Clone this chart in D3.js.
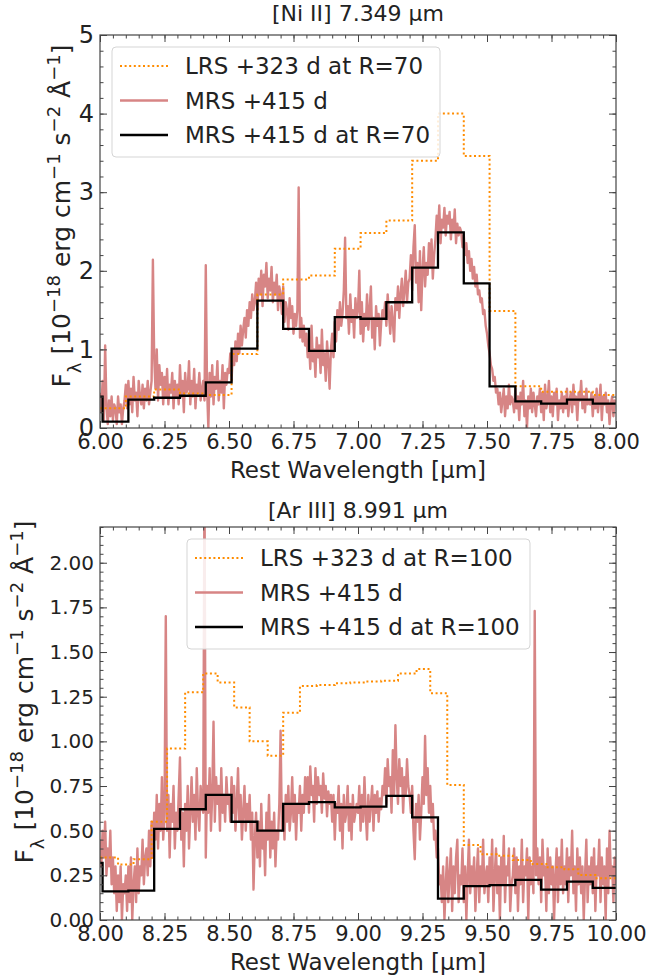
<!DOCTYPE html>
<html>
<head>
<meta charset="utf-8">
<script src="https://cdn.jsdelivr.net/npm/d3@7/dist/d3.min.js"></script>
<style>
body { margin: 0; background: #fff; }
text { font-family: "DejaVu Sans", sans-serif; fill: #222; }
</style>
</head>
<body>
<svg id="chart"></svg>
<script>
// ---- panel 1 : [Ni II] 7.349 um ----
var mrsStep = 0.005;
var mrsStart1 = 6.0;
var mrsFlux1 = [
0.45,0.2,0.6,0.1,1.05,0.3,0.05,0.35,0.15,0.4,0.1,0.3,0.25,0.05,0.4,0.2,0.3,0.05,0.25,0.35,
0.55,0.25,0.6,0.3,0.5,0.2,0.65,0.35,0.45,0.15,0.6,0.4,0.3,0.55,0.25,0.5,0.35,0.6,0.3,0.45,
0.6,2.14,0.9,0.5,1.0,0.35,0.8,0.55,0.7,0.3,0.65,0.4,0.75,0.3,0.55,0.45,0.7,0.25,0.6,0.4,
0.55,0.3,0.8,0.4,0.6,0.2,0.7,0.45,0.5,0.85,0.3,0.6,0.4,0.75,0.25,0.55,0.45,0.7,0.35,0.5,
0.6,0.35,2.07,0.5,0.0,0.7,0.4,0.8,0.3,0.65,0.5,0.85,0.35,0.6,0.45,0.8,0.25,0.7,0.55,0.75,
0.7,0.95,0.6,1.0,0.8,1.1,0.85,1.2,0.95,1.3,1.05,1.25,1.4,1.15,1.5,1.3,1.6,1.4,1.7,1.5,
1.6,1.85,1.5,1.9,1.7,2.0,1.55,1.95,1.8,2.1,1.65,1.9,1.75,2.05,1.6,1.85,1.7,1.95,1.5,1.8,
1.7,1.45,1.8,1.35,1.6,1.5,1.25,1.65,1.4,1.55,1.2,1.45,1.3,1.5,3.06,1.15,1.4,1.1,1.3,1.05,
1.2,0.9,1.1,0.75,1.3,0.85,1.0,0.65,1.15,0.9,1.05,0.7,1.25,0.8,0.95,0.6,1.1,0.85,0.5,1.0,
1.2,0.9,1.35,1.1,1.5,1.25,1.6,1.3,1.45,1.75,2.42,1.4,1.55,1.2,1.7,1.35,1.5,1.15,1.65,1.4,
1.5,2.0,1.2,1.6,1.1,1.45,1.3,1.7,1.25,1.5,1.8,1.15,1.4,1.0,1.55,1.3,1.45,1.05,1.35,1.5,
1.4,1.6,1.3,1.7,1.45,1.2,1.55,1.35,1.1,1.65,1.5,1.8,1.4,1.7,1.9,1.55,1.75,2.0,1.6,1.85,
1.9,2.2,1.75,2.3,2.58,1.85,2.1,1.6,2.25,1.5,2.0,2.3,1.8,2.1,1.95,2.35,2.05,2.4,1.9,2.2,
2.4,2.7,2.5,2.83,2.35,2.65,2.55,2.8,2.45,2.7,2.6,2.75,2.4,2.65,2.5,2.78,2.35,2.6,2.45,2.55,
2.5,2.3,2.45,2.2,2.35,2.1,2.25,2.0,2.15,1.9,2.05,1.8,1.95,1.7,1.75,1.6,1.65,1.45,1.5,1.3,
1.2,1.05,0.95,0.8,0.75,0.6,0.65,0.45,0.5,0.3,0.45,0.2,0.35,0.5,0.15,0.4,0.25,0.55,0.3,0.4,
0.35,0.2,0.5,0.25,0.4,0.1,0.45,0.3,0.6,0.15,0.35,0.0,0.4,0.25,0.5,0.2,0.45,0.3,0.15,0.4,
0.3,0.5,0.2,0.45,0.1,0.55,0.25,0.35,0.6,0.2,0.4,0.15,0.45,0.3,0.5,0.1,0.35,0.25,0.45,0.2,
0.4,0.25,0.5,0.15,0.35,0.45,0.2,0.55,0.3,0.4,0.1,0.45,0.35,0.6,0.25,0.4,0.2,0.5,0.3,0.35,
0.3,0.45,0.15,0.4,0.25,0.5,0.2,0.35,0.55,0.1,0.4,0.3,0.45,0.2,0.35,0.05,0.3,0.4,0.15,0.35,
0.3];
var binEdges1 = [6.00,6.01,6.11,6.21,6.31,6.41,6.51,6.61,6.71,6.81,6.91,7.01,7.11,7.21,7.31,7.41,7.51,7.61,7.71,7.81,7.91,8.00];
var binFlux1  = [0.40,0.08,0.36,0.385,0.41,0.58,1.01,1.62,1.26,0.98,1.41,1.39,1.60,2.04,2.49,1.84,0.53,0.34,0.31,0.36,0.31];
var lrsEdges1 = [6.00,6.10,6.21,6.31,6.41,6.51,6.61,6.71,6.81,6.91,7.01,7.11,7.21,7.31,7.41,7.51,7.61,7.71,7.91,8.00];
var lrsFlux1  = [0.25,0.40,0.49,0.44,0.42,0.94,1.70,1.89,1.94,2.28,2.48,2.64,3.40,4.00,3.46,1.49,0.53,0.46,0.42];
var xTicks1 = [6.00,6.25,6.50,6.75,7.00,7.25,7.50,7.75,8.00];
var yTicks1 = [0,1,2,3,4,5];

// ---- panel 2 : [Ar III] 8.991 um ----
var mrsStart2 = 8.0;
var mrsFlux2 = [
0.45,0.3,0.5,0.35,0.55,0.25,0.4,0.3,0.5,0.2,0.35,0.15,0.3,0.05,0.25,0.1,0.3,0.0,0.2,0.15,
0.25,0.05,0.3,0.1,0.35,0.0,0.2,0.3,0.1,0.4,0.15,0.3,0.25,0.45,0.2,0.35,0.4,0.25,0.5,0.3,
0.55,0.35,0.6,0.45,0.7,0.4,0.65,0.5,0.8,0.45,0.6,1.70,0.5,0.7,0.35,0.65,0.55,0.75,0.4,0.6,
0.5,0.7,0.91,0.45,0.6,0.3,0.65,0.5,0.75,0.4,0.6,0.8,0.55,0.7,0.45,0.85,0.6,0.5,0.75,0.65,
0.6,2.5,0.35,0.75,0.6,0.85,0.5,0.7,1.11,0.55,0.8,0.65,0.75,0.5,0.85,0.6,0.7,0.55,0.8,0.65,
0.7,0.55,0.8,0.6,0.75,0.5,0.65,0.85,0.55,0.7,0.45,0.6,0.75,0.5,0.65,0.55,0.7,0.45,0.6,0.17,
0.45,0.6,0.35,0.55,0.3,0.65,0.4,0.5,0.25,0.6,0.45,0.7,0.35,0.55,0.4,0.6,0.3,0.5,0.45,0.65,
1.06,0.5,0.65,0.45,0.7,0.55,0.75,0.5,0.6,0.8,0.55,0.7,0.45,0.65,0.6,0.75,0.5,0.7,0.6,0.8,
0.65,0.8,0.6,0.86,0.7,0.75,0.55,0.85,0.65,0.8,0.7,0.75,0.6,0.82,0.68,0.75,0.58,0.72,0.65,0.7,
0.55,0.7,0.45,0.65,0.6,0.75,0.5,0.65,0.4,0.7,0.55,0.6,0.75,0.5,0.65,0.45,0.7,0.55,0.6,0.65,
0.6,0.75,0.5,0.7,0.55,0.8,0.6,0.45,0.7,0.55,0.65,0.75,0.5,0.7,0.6,0.72,0.55,0.68,0.62,0.75,
0.7,0.85,0.65,0.9,0.75,0.8,0.6,0.95,0.7,1.09,0.8,0.65,0.9,0.75,0.85,0.6,0.8,0.7,0.9,0.75,
0.7,0.6,0.75,0.5,0.34,0.65,0.55,0.7,0.45,0.6,0.8,0.65,1.03,0.7,0.85,0.6,0.75,0.55,0.65,0.45,
0.5,0.35,0.4,0.2,0.25,0.1,0.3,0.0,0.2,0.35,0.1,0.25,0.4,0.05,0.3,0.15,0.35,0.45,0.1,0.25,
0.2,0.4,0.1,0.3,0.0,0.25,0.45,0.15,0.3,0.2,0.35,0.05,0.25,0.4,0.1,0.3,0.2,0.45,0.15,0.25,
0.3,0.1,0.35,0.2,0.45,0.05,0.25,0.4,0.15,0.3,0.0,0.35,0.2,0.47,0.1,0.3,0.25,0.4,0.05,0.2,
0.25,0.4,0.15,0.35,0.05,0.3,0.2,0.45,0.1,0.3,0.25,0.4,0.0,0.35,0.2,0.3,0.15,1.73,0.25,0.4,
0.2,0.35,0.1,0.45,0.25,0.3,0.05,0.4,0.15,0.35,0.2,0.3,0.0,0.25,0.4,0.1,0.35,0.2,0.45,0.15,
0.3,0.2,0.4,0.1,0.35,0.25,0.5,0.15,0.3,0.05,0.4,0.2,0.35,0.15,0.3,0.0,0.25,0.45,0.1,0.3,
0.2,0.35,0.15,0.4,0.05,0.3,0.25,0.45,0.1,0.35,0.2,0.3,0.0,0.4,0.15,0.5,0.25,0.3,0.1,0.35,
0.2];
var binEdges2 = [8.00,8.01,8.11,8.21,8.31,8.41,8.51,8.61,8.71,8.81,8.91,9.01,9.11,9.21,9.31,9.41,9.51,9.61,9.71,9.81,9.91,10.00];
var binFlux2  = [0.32,0.16,0.165,0.51,0.62,0.70,0.55,0.50,0.65,0.66,0.63,0.635,0.695,0.575,0.12,0.19,0.195,0.225,0.17,0.215,0.18];
var lrsEdges2 = [8.00,8.07,8.13,8.20,8.26,8.33,8.40,8.456,8.52,8.58,8.65,8.71,8.775,8.84,8.91,8.97,9.03,9.09,9.155,9.227,9.28,9.346,9.41,9.475,9.537,9.60,9.67,9.73,9.80,9.854,9.92,10.00];
var lrsFlux2  = [0.35,0.31,0.34,0.55,0.96,1.275,1.38,1.33,1.19,1.00,0.92,1.16,1.31,1.315,1.325,1.33,1.335,1.34,1.38,1.405,1.27,0.756,0.42,0.368,0.359,0.336,0.314,0.295,0.284,0.252,0.234];
var xTicks2 = [8.00,8.25,8.50,8.75,9.00,9.25,9.50,9.75,10.00];
var yTicks2 = [0.00,0.25,0.50,0.75,1.00,1.25,1.50,1.75,2.00];

var width = 649; var height = 979;
var svg = d3.select("#chart").attr("width", width).attr("height", height);

var pink = "#d78585", orange = "darkorange";

function stepPoints(edges, vals){
	var pts = [];
	for(var i = 0; i < vals.length; i++) pts.push([edges[i], vals[i]]);
	pts.push([edges[edges.length-1], vals[vals.length-1]]);
	return pts;
}

function drawPanel(p){
	var x = d3.scaleLinear().domain(p.xdom).range([p.left, p.right]);
	var y = d3.scaleLinear().domain(p.ydom).range([p.bottom, p.top]);
	var g = svg.append("g");

	var clipId = "clip" + p.id;
	svg.append("clipPath").attr("id", clipId).append("rect")
		.attr("x", p.left).attr("y", p.top)
		.attr("width", p.right - p.left).attr("height", p.bottom - p.top);
	var plot = g.append("g").attr("clip-path", "url(#" + clipId + ")");

	var mrs = p.mrs.map(function(v, i){ return [p.mrsStart + i*mrsStep, v]; });
	var line = d3.line().x(function(d){return x(d[0])}).y(function(d){return y(d[1])});
	var step = d3.line().curve(d3.curveStepAfter).x(function(d){return x(d[0])}).y(function(d){return y(d[1])});

	plot.append("path").datum(mrs).attr("d", line)
		.attr("fill", "none").attr("stroke", pink).attr("stroke-width", 2.4).attr("stroke-linejoin", "round");
	plot.append("path").datum(stepPoints(p.lrsEdges, p.lrsFlux)).attr("d", step)
		.attr("fill", "none").attr("stroke", orange).attr("stroke-width", 2).attr("stroke-dasharray", "2,2.6");
	plot.append("path").datum(stepPoints(p.binEdges, p.binFlux)).attr("d", step)
		.attr("fill", "none").attr("stroke", "#000").attr("stroke-width", 2.3);

	// axes, ticks inward on all sides
	var fmtX = d3.format(".2f");
	var xMinor = d3.range(p.xdom[0], p.xdom[1] + 1e-9, 0.05);
	var yMinor = d3.range(p.ydom[0], p.ydom[1] + 1e-9, p.yminor);
	function axisSet(axisFn, scale, ticks, minor, labels, fs, tr){
		var a = g.append("g").attr("transform", tr)
			.call(axisFn(scale).tickValues(minor).tickSize(-3.5).tickSizeOuter(0).tickFormat(""));
		a.select(".domain").remove();
		var b = g.append("g").attr("transform", tr)
			.call(axisFn(scale).tickValues(ticks).tickSize(-7).tickSizeOuter(0).tickPadding(6)
				.tickFormat(labels ? labels : ""));
		b.select(".domain").remove();
		b.selectAll("text").style("font-size", fs + "px").style("font-family", "DejaVu Sans").attr("fill", "#222");
		a.selectAll("line").attr("stroke", "#444");
		b.selectAll("line").attr("stroke", "#444");
		return b;
	}
	axisSet(d3.axisBottom, x, p.xticks, xMinor, fmtX, 21, "translate(0," + p.bottom + ")");
	axisSet(d3.axisTop, x, p.xticks, xMinor, null, 21, "translate(0," + p.top + ")");
	axisSet(d3.axisLeft, y, p.yticks, yMinor, p.yfmt, p.yfs, "translate(" + p.left + ",0)");
	axisSet(d3.axisRight, y, p.yticks, yMinor, null, 21, "translate(" + p.right + ",0)");

	g.append("rect").attr("x", p.left).attr("y", p.top)
		.attr("width", p.right - p.left).attr("height", p.bottom - p.top)
		.attr("fill", "none").attr("stroke", "#444").attr("stroke-width", 1.2);

	// title and axis labels
	g.append("text").attr("x", (p.left + p.right)/2).attr("y", p.titleY)
		.attr("text-anchor", "middle").style("font-size", "22px").text(p.title);
	g.append("text").attr("x", (p.left + p.right)/2).attr("y", p.bottom + 50)
		.attr("text-anchor", "middle").style("font-size", "23px").text("Rest Wavelength [µm]");

	var yl = g.append("text").attr("text-anchor", "middle").style("font-size", "25px")
		.attr("transform", "translate(" + p.ylabX + "," + p.ylabY + ") rotate(-90)");
	var parts = [["F",""],["λ","sub"],[" [10",""],["−18","super"],[" erg cm",""],["−1","super"],
		[" s",""],["−2","super"],[" Å",""],["−1","super"],["]",""]];
	parts.forEach(function(t){
		var s = yl.append("tspan").text(t[0]);
		if(t[1]) s.attr("baseline-shift", t[1]).style("font-size", "18px");
	});

	// legend
	var L = p.legend;
	g.append("rect").attr("x", L.x).attr("y", L.y).attr("width", L.w).attr("height", L.h)
		.attr("rx", 4).attr("fill", "rgba(255,255,255,0.85)").attr("stroke", "#d5d5d5");
	var rows = [
		{label: p.legLabels[0], stroke: orange, dash: "2,2.6", w: 2},
		{label: p.legLabels[1], stroke: pink, dash: null, w: 2.4},
		{label: p.legLabels[2], stroke: "#000", dash: null, w: 2.3}
	];
	rows.forEach(function(r, i){
		var yy = L.y + 19 + i*34.5;
		g.append("line").attr("x1", L.x + 8).attr("x2", L.x + 56).attr("y1", yy).attr("y2", yy)
			.attr("stroke", r.stroke).attr("stroke-width", r.w).attr("stroke-dasharray", r.dash);
		g.append("text").attr("x", L.x + 73).attr("y", yy).attr("dy", "0.36em")
			.style("font-size", "23px").text(r.label);
	});
}

drawPanel({
	id: 1, xdom: [6, 8], ydom: [0, 5], left: 100, right: 616, top: 35, bottom: 428,
	mrs: mrsFlux1, mrsStart: mrsStart1, binEdges: binEdges1, binFlux: binFlux1,
	lrsEdges: lrsEdges1, lrsFlux: lrsFlux1, xticks: xTicks1, yticks: yTicks1, yminor: 0.2,
	yfmt: d3.format("d"), yfs: 24, title: "[Ni II] 7.349 µm", titleY: 21, ylabX: 70, ylabY: 216,
	legend: {x: 112, y: 47, w: 328, h: 110},
	legLabels: ["LRS +323 d at R=70", "MRS +415 d", "MRS +415 d at R=70"]
});
drawPanel({
	id: 2, xdom: [8, 10], ydom: [0, 2.2], left: 100, right: 616, top: 527, bottom: 920,
	mrs: mrsFlux2, mrsStart: mrsStart2, binEdges: binEdges2, binFlux: binFlux2,
	lrsEdges: lrsEdges2, lrsFlux: lrsFlux2, xticks: xTicks2, yticks: yTicks2, yminor: 0.05,
	yfmt: d3.format(".2f"), yfs: 20, title: "[Ar III] 8.991 µm", titleY: 518, ylabX: 33, ylabY: 692,
	legend: {x: 187, y: 539, w: 343, h: 110},
	legLabels: ["LRS +323 d at R=100", "MRS +415 d", "MRS +415 d at R=100"]
});
</script>
</body>
</html>
